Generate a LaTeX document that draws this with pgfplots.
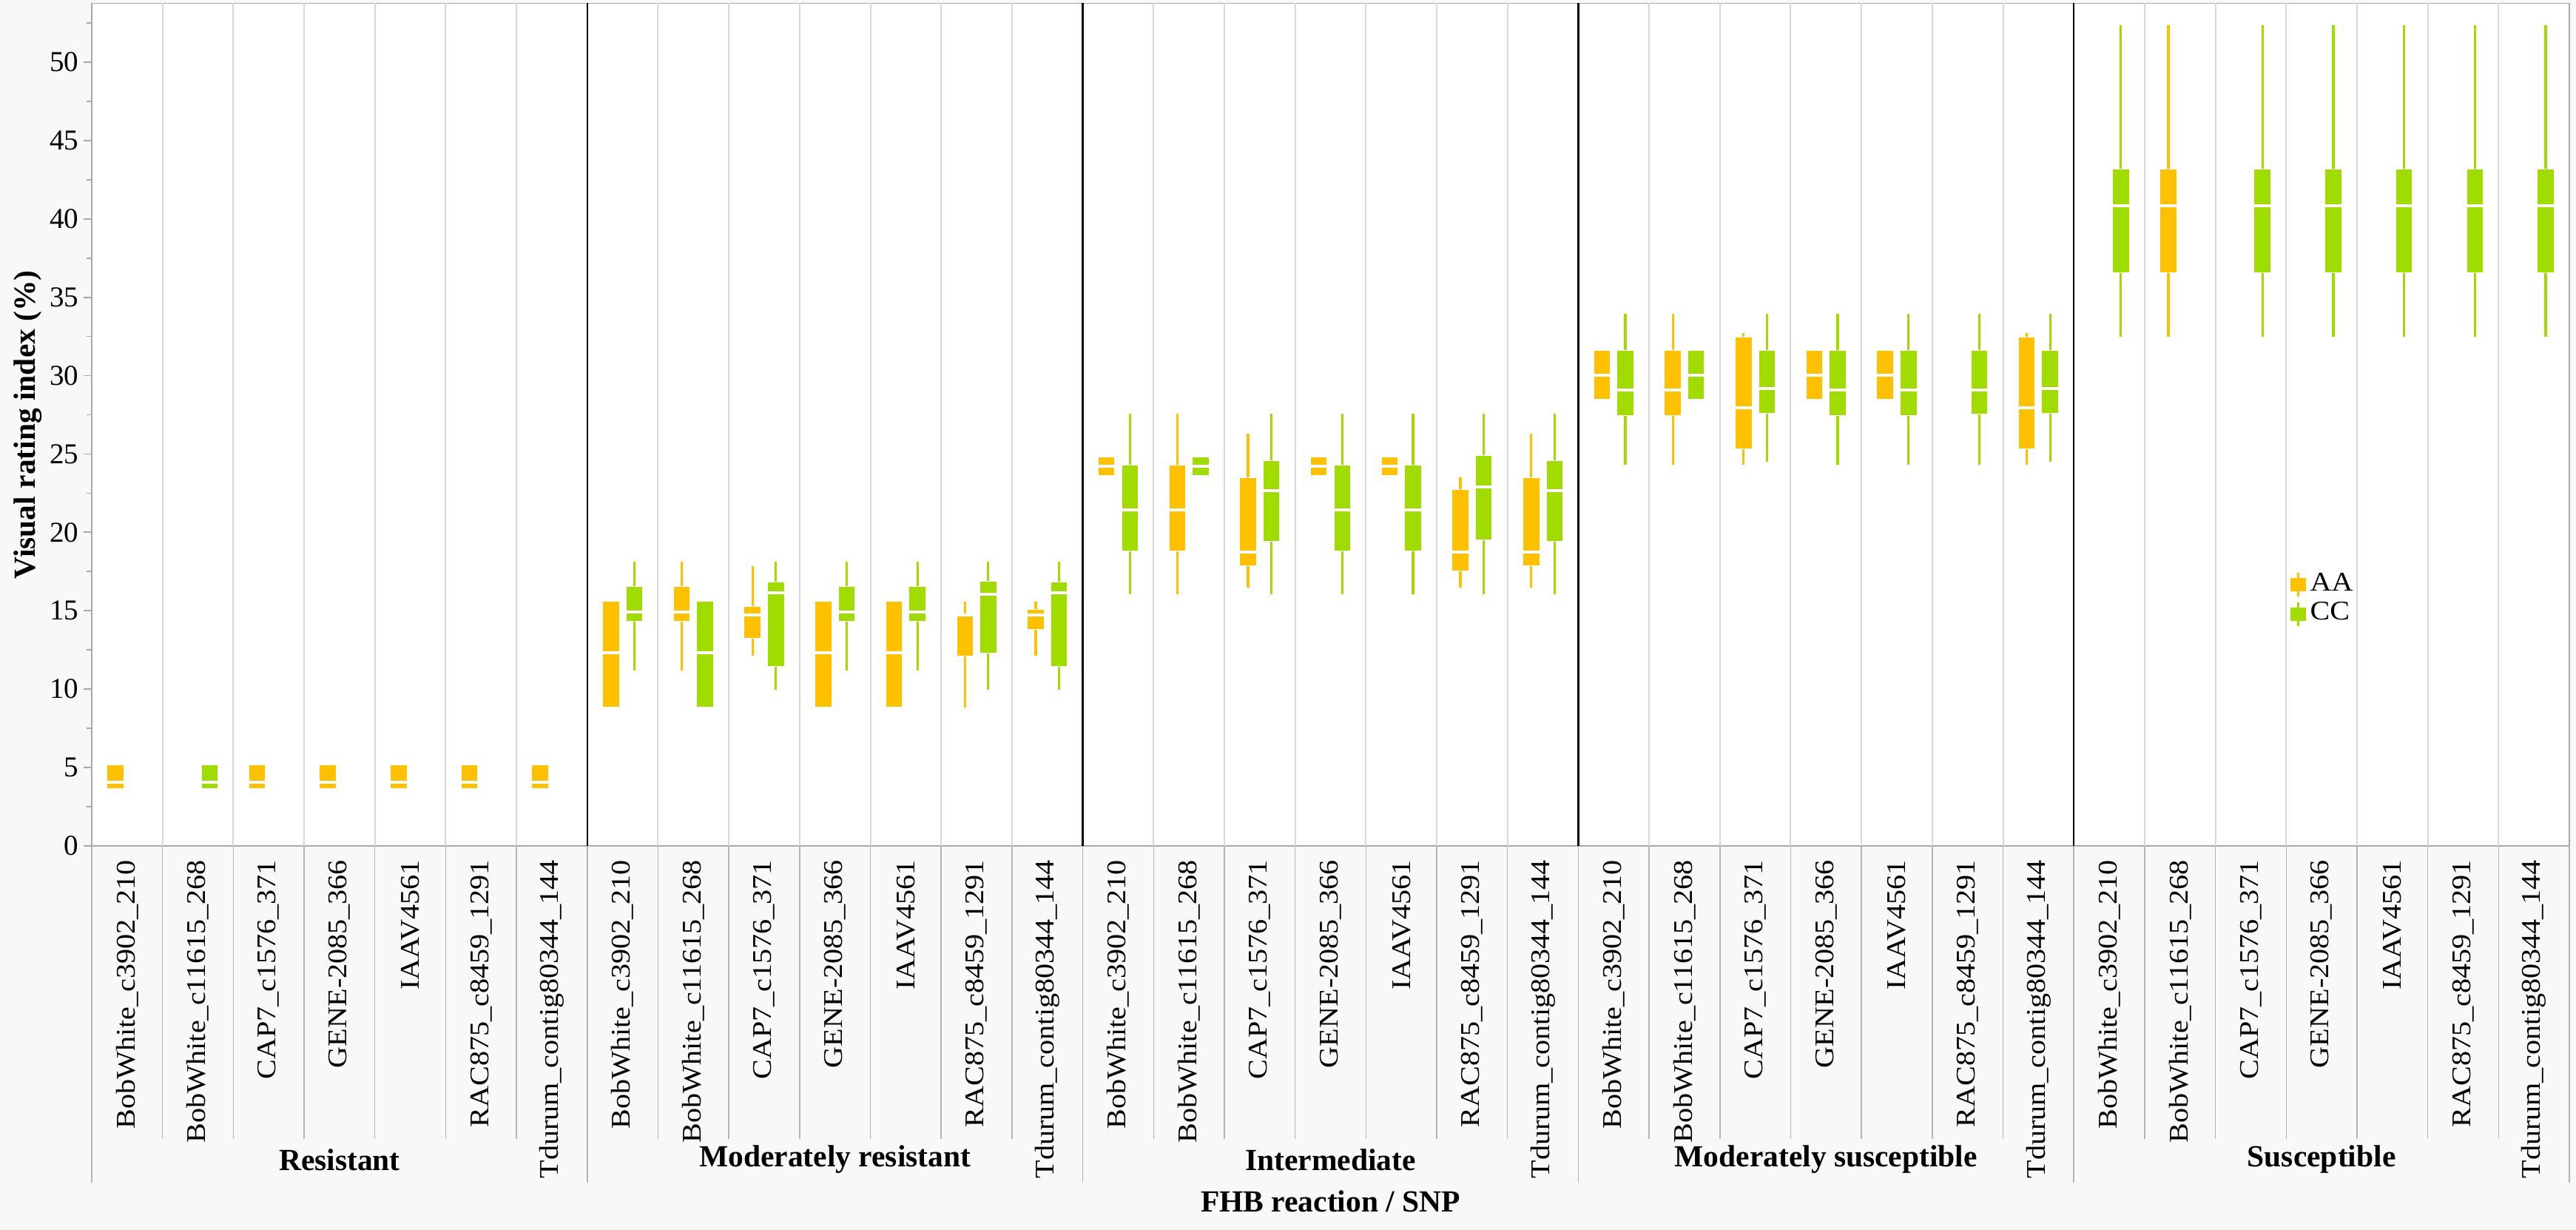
\documentclass[border=0pt]{standalone}
\usepackage{fontspec}
\setmainfont{Liberation Serif}
\newfontfamily\catfam{Liberation Serif}[FakeStretch=1.1]
\usepackage{pgfplots}
\usepackage{pgfplotstable}
\pgfplotsset{compat=1.18}
\usepgfplotslibrary{statistics}
\definecolor{AAc}{HTML}{FFC000}
\definecolor{CCc}{HTML}{A0DC00}
\definecolor{bgc}{HTML}{F8F8F8}
\definecolor{axisgray}{HTML}{A8A8A8}
\definecolor{gridlight}{HTML}{D8D8D8}
\definecolor{sepgray}{HTML}{B4B4B4}

% pos lower-whisker lower-quartile median upper-quartile upper-whisker
\pgfplotstableread{
pos lw lq med uq uw
0 3.64 3.64 4.05 5.18 5.18
2 3.64 3.64 4.05 5.18 5.18
3 3.64 3.64 4.05 5.18 5.18
4 3.64 3.64 4.05 5.18 5.18
5 3.64 3.64 4.05 5.18 5.18
6 3.64 3.64 4.05 5.18 5.18
7 8.83 8.83 12.31 15.60 15.60
8 11.19 14.31 14.92 16.56 18.11
9 12.13 13.25 14.75 15.25 17.85
10 8.83 8.83 12.31 15.60 15.60
11 8.83 8.83 12.31 15.60 15.60
12 8.83 12.13 14.73 14.73 15.60
13 12.13 13.79 14.75 15.06 15.60
14 23.61 23.61 24.22 24.82 24.82
15 16.07 18.82 21.44 24.28 27.59
16 16.48 17.89 18.74 23.51 26.30
17 23.61 23.61 24.22 24.82 24.82
18 23.61 23.61 24.22 24.82 24.82
19 16.48 17.53 18.74 22.73 23.50
20 16.48 17.89 18.74 23.51 26.30
21 28.47 28.47 30.04 31.60 31.60
22 24.32 27.43 29.08 31.60 33.95
23 24.32 25.35 27.95 32.45 32.72
24 28.47 28.47 30.04 31.60 31.60
25 28.47 28.47 30.04 31.60 31.60
27 24.32 25.35 27.95 32.45 32.72
29 32.46 36.57 40.83 43.16 52.37
}\AAdata

\pgfplotstableread{
pos lw lq med uq uw
1 3.64 3.64 4.05 5.18 5.18
7 11.19 14.31 14.92 16.56 18.11
8 8.83 8.83 12.31 15.60 15.60
9 9.98 11.44 16.13 16.81 18.11
10 11.19 14.31 14.92 16.56 18.11
11 11.19 14.31 14.92 16.56 18.11
12 9.98 12.31 16.04 16.90 18.11
13 9.98 11.44 16.13 16.81 18.11
14 16.07 18.82 21.44 24.28 27.59
15 23.61 23.61 24.22 24.82 24.82
16 16.07 19.45 22.65 24.55 27.59
17 16.07 18.82 21.44 24.28 27.59
18 16.07 18.82 21.44 24.28 27.59
19 16.07 19.53 22.91 24.90 27.59
20 16.07 19.45 22.65 24.55 27.59
21 24.32 27.43 29.08 31.60 33.95
22 28.47 28.47 30.04 31.60 31.60
23 24.49 27.61 29.18 31.60 33.95
24 24.32 27.43 29.08 31.60 33.95
25 24.32 27.43 29.08 31.60 33.95
26 24.32 27.53 29.08 31.60 33.95
27 24.49 27.61 29.18 31.60 33.95
28 32.46 36.57 40.83 43.16 52.37
30 32.46 36.57 40.83 43.16 52.37
31 32.46 36.57 40.83 43.16 52.37
32 32.46 36.57 40.83 43.16 52.37
33 32.46 36.57 40.83 43.16 52.37
34 32.46 36.57 40.83 43.16 52.37
}\CCdata

\pgfplotstablegetrowsof{\AAdata}\pgfmathtruncatemacro\lastAA{\pgfplotsretval-1}
\pgfplotstablegetrowsof{\CCdata}\pgfmathtruncatemacro\lastCC{\pgfplotsretval-1}

\pgfplotsset{
  gbox/.style={
    draw=#1, fill=#1, solid, mark=none, forget plot,
    boxplot/draw direction=y,
    boxplot/box extend=0.235,
    boxplot/whisker extend=0,
    boxplot/every whisker/.style={draw=#1, line width=0.65bp},
    boxplot/every box/.style={draw=white, fill=#1, line width=0.2bp},
    boxplot/every median/.style={draw=white, line width=0.8bp},
  },
}

% draws all rows of a table as prepared boxplots, shifted by an offset
\newcommand\drawboxes[4]{% table, last row, offset, colour
  \pgfplotsforeachungrouped \i in {0,...,#2}{%
    \pgfplotstablegetelem{\i}{pos}\of#1\let\vPOS\pgfplotsretval
    \pgfplotstablegetelem{\i}{lw}\of#1\let\vLW\pgfplotsretval
    \pgfplotstablegetelem{\i}{lq}\of#1\let\vLQ\pgfplotsretval
    \pgfplotstablegetelem{\i}{med}\of#1\let\vMD\pgfplotsretval
    \pgfplotstablegetelem{\i}{uq}\of#1\let\vUQ\pgfplotsretval
    \pgfplotstablegetelem{\i}{uw}\of#1\let\vUW\pgfplotsretval
    \pgfmathsetmacro\vDP{\vPOS+(#3)}%
    \edef\tmp{\noexpand\addplot[gbox=#4, boxplot prepared={draw position=\vDP,
      lower whisker=\vLW, lower quartile=\vLQ, median=\vMD,
      upper quartile=\vUQ, upper whisker=\vUW}] coordinates {};}%
    \tmp
  }%
}

\newcommand\catfont{\catfam\fontsize{7.3bp}{8.3bp}\selectfont}
\newcommand\boldfont{\fontsize{8.3bp}{9bp}\selectfont\bfseries}

\begin{document}
\begin{tikzpicture}
\path[use as bounding box, fill=bgc] (0,0) rectangle (696.4bp,332.4bp);
\begin{axis}[
  at={(24.8bp,103.8bp)}, anchor=south west,
  scale only axis, width=669.8bp, height=227.7bp,
  xmin=-0.5, xmax=34.5, ymin=0, ymax=53.75,
  clip=false,
  axis background/.style={fill=white},
  axis line style={draw=axisgray, line width=0.35bp},
  xtick={0,...,34},
  xticklabels={BobWhite\_c3902\_210,BobWhite\_c11615\_268,CAP7\_c1576\_371,GENE-2085\_366,IAAV4561,RAC875\_c8459\_1291,Tdurum\_contig80344\_144,
  BobWhite\_c3902\_210,BobWhite\_c11615\_268,CAP7\_c1576\_371,GENE-2085\_366,IAAV4561,RAC875\_c8459\_1291,Tdurum\_contig80344\_144,
  BobWhite\_c3902\_210,BobWhite\_c11615\_268,CAP7\_c1576\_371,GENE-2085\_366,IAAV4561,RAC875\_c8459\_1291,Tdurum\_contig80344\_144,
  BobWhite\_c3902\_210,BobWhite\_c11615\_268,CAP7\_c1576\_371,GENE-2085\_366,IAAV4561,RAC875\_c8459\_1291,Tdurum\_contig80344\_144,
  BobWhite\_c3902\_210,BobWhite\_c11615\_268,CAP7\_c1576\_371,GENE-2085\_366,IAAV4561,RAC875\_c8459\_1291,Tdurum\_contig80344\_144},
  x tick style={draw=none},
  xticklabel shift=1.4bp,
  xticklabel style={rotate=90, anchor=east, inner sep=0pt, font=\catfont},
  ytick={0,5,...,50},
  minor ytick={2.5,7.5,...,52.5},
  ytick pos=left,
  tick align=outside,
  major tick length=2.2bp,
  minor tick length=1.4bp,
  y tick style={draw=axisgray, line width=0.35bp},
  /pgf/number format/assume math mode=true,
  yticklabel shift=1.2bp,
  yticklabel style={font=\fontsize{7.8bp}{8bp}\selectfont, inner sep=0pt, anchor=east},
  legend style={at={(axis cs:30.55,17.6)}, anchor=north west, draw=none, fill=none,
    inner sep=0pt, font=\catfont, row sep=0.4bp,
    nodes={inner xsep=1.2bp, inner ysep=0.6bp}},
  legend cell align=left,
]
% separators inside the plot area and below it
\pgfplotsinvokeforeach{0.5,1.5,2.5,3.5,4.5,5.5,7.5,8.5,9.5,10.5,11.5,12.5,14.5,15.5,16.5,17.5,18.5,19.5,21.5,22.5,23.5,24.5,25.5,26.5,28.5,29.5,30.5,31.5,32.5,33.5}{
  \draw[gridlight, line width=0.4bp] (axis cs:#1,0) -- (axis cs:#1,53.75);
  \draw[sepgray, line width=0.3bp] (axis cs:#1,0) -- ([yshift=-79.2bp]axis cs:#1,0);
}
\pgfplotsinvokeforeach{6.5,13.5,20.5,27.5}{
  \draw[black, line width=0.5bp] (axis cs:#1,0) -- (axis cs:#1,53.75);
}
\pgfplotsinvokeforeach{-0.5,6.5,13.5,20.5,27.5,34.5}{
  \draw[sepgray, line width=0.3bp] (axis cs:#1,0) -- ([yshift=-91bp]axis cs:#1,0);
}

\drawboxes{\AAdata}{\lastAA}{-0.165}{AAc}
\drawboxes{\CCdata}{\lastCC}{0.165}{CCc}

\addlegendimage{legend image code/.code={
  \draw[AAc, line width=0.6bp] (1.85bp,-3.2bp) -- (1.85bp,3.2bp);
  \fill[AAc] (0,-1.6bp) rectangle (3.7bp,1.6bp);}}
\addlegendentry{AA}
\addlegendimage{legend image code/.code={
  \draw[CCc, line width=0.6bp] (1.85bp,-3.2bp) -- (1.85bp,3.2bp);
  \fill[CCc] (0,-1.6bp) rectangle (3.7bp,1.6bp);}}
\addlegendentry{CC}

% group labels and titles
\node[font=\boldfont] at ([yshift=-84.8bp]axis cs:3,0) {Resistant};
\node[font=\boldfont] at ([yshift=-84.8bp]axis cs:10,0) {Moderately resistant};
\node[font=\boldfont] at ([yshift=-84.8bp]axis cs:17,0) {Intermediate};
\node[font=\boldfont] at ([yshift=-84.8bp]axis cs:24,0) {Moderately susceptible};
\node[font=\boldfont] at ([yshift=-84.8bp]axis cs:31,0) {Susceptible};
\node[font=\boldfont] at ([yshift=-96bp]rel axis cs:0.5,0) {FHB reaction / SNP};
\node[font=\boldfont, rotate=90] at ([xshift=-17.2bp]rel axis cs:0,0.5) {Visual rating index (\%)};
\end{axis}
\end{tikzpicture}
\end{document}
